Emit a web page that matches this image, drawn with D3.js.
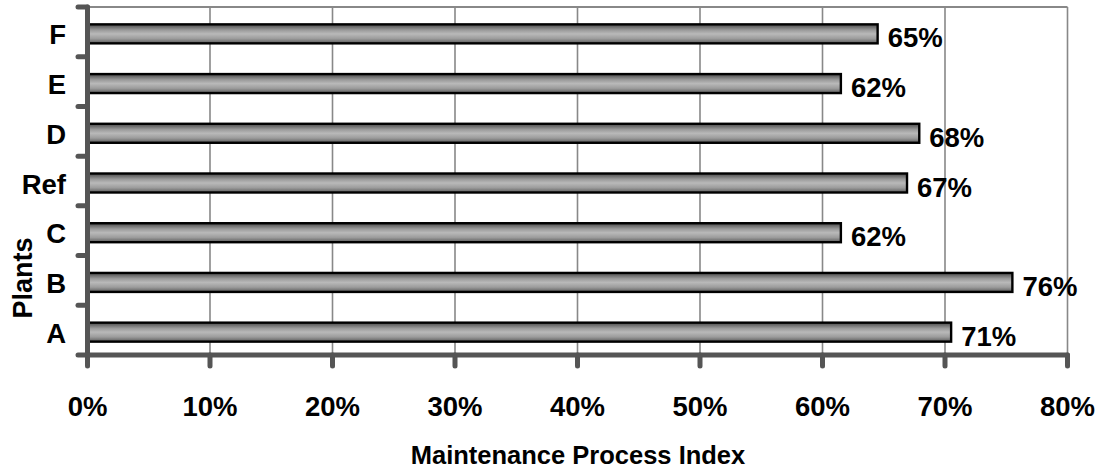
<!DOCTYPE html>
<html>
<head>
<meta charset="utf-8">
<script src="https://cdn.jsdelivr.net/npm/d3@7"></script>
<style>
  html, body { margin: 0; padding: 0; background: #fff; }
  svg { display: block; }
</style>
</head>
<body>
<div id="chart"></div>
<script>
// ---- data -----------------------------------------------------------------
const plants = ["F", "E", "D", "Ref", "C", "B", "A"]; // top to bottom
const processIndex = [64.5, 61.5, 67.9, 66.9, 61.5, 75.5, 70.5];
const valueLabels = ["65%", "62%", "68%", "67%", "62%", "76%", "71%"];
const xTicks = [0, 10, 20, 30, 40, 50, 60, 70, 80];

// ---- layout ---------------------------------------------------------------
const W = 1102, H = 470;
const L = 87.5, R = 1067.5, T = 7, B = 355;
const FAM = "'Liberation Sans', Arial, sans-serif";
const FONT = `bold 27.5px ${FAM}`;
const AXIS = "#555", GRID = "#888";

const svg = d3.select("#chart").append("svg").attr("width", W).attr("height", H);

const x = d3.scaleLinear().domain([0, 80]).range([L, R]);
const y = d3.scaleBand().domain(plants).range([T, B]);

// cylinder-ish shading on the bars
const grad = svg.append("defs").append("linearGradient")
  .attr("id", "barShade").attr("x1", 0).attr("y1", 0).attr("x2", 0).attr("y2", 1);
[[0, "#4a4a4a"], [0.3, "#9a9a9a"], [0.5, "#b9b9b9"], [0.75, "#9c9c9c"], [1, "#5c5c5c"]]
  .forEach(([o, c]) => grad.append("stop").attr("offset", o).attr("stop-color", c));

// ---- grid + frame ---------------------------------------------------------
svg.append("g")
  .selectAll("line")
  .data(xTicks.slice(1))
  .join("line")
  .attr("x1", (d) => x(d)).attr("x2", (d) => x(d))
  .attr("y1", T).attr("y2", B)
  .attr("stroke", GRID).attr("stroke-width", 1.6);
svg.append("line")
  .attr("x1", L).attr("x2", R).attr("y1", T).attr("y2", T)
  .attr("stroke", GRID).attr("stroke-width", 2);

// ---- bars -----------------------------------------------------------------
const BAR_H = 19, BAR_OFF = 2;
const rows = plants.map((p, i) => ({ p, v: processIndex[i], lab: valueLabels[i] }));
svg.append("g")
  .selectAll("rect")
  .data(rows)
  .join("rect")
  .attr("x", x(0))
  .attr("y", (d) => y(d.p) + y.bandwidth() / 2 - BAR_H / 2 + BAR_OFF)
  .attr("width", (d) => x(d.v) - x(0))
  .attr("height", BAR_H)
  .attr("fill", "url(#barShade)")
  .attr("stroke", "#000").attr("stroke-width", 2.4);

svg.append("g")
  .selectAll("text")
  .data(rows)
  .join("text")
  .attr("x", (d) => x(d.v) + 10)
  .attr("y", (d) => y(d.p) + y.bandwidth() / 2 + BAR_OFF + 4)
  .attr("dominant-baseline", "central")
  .attr("fill", "#000").style("font", FONT)
  .text((d) => d.lab);

// ---- axes -----------------------------------------------------------------
const axes = svg.append("g").attr("stroke", AXIS).attr("stroke-linecap", "round");
// left axis ticks at band boundaries
const bounds = plants.map((p) => y(p)).concat([B]);
axes.selectAll("line.yt").data(bounds).join("line").attr("class", "yt")
  .attr("x1", 78).attr("x2", L).attr("y1", (d) => d).attr("y2", (d) => d)
  .attr("stroke-width", 5);
// bottom axis ticks
axes.selectAll("line.xt").data(xTicks).join("line").attr("class", "xt")
  .attr("x1", (d) => x(d)).attr("x2", (d) => x(d)).attr("y1", B).attr("y2", 366)
  .attr("stroke-width", 5);
axes.append("line").attr("x1", L).attr("x2", L).attr("y1", T).attr("y2", B).attr("stroke-width", 5);
axes.append("line").attr("x1", L).attr("x2", R).attr("y1", B).attr("y2", B).attr("stroke-width", 5);

// tick labels
svg.append("g")
  .selectAll("text")
  .data(xTicks)
  .join("text")
  .attr("x", (d) => x(d)).attr("y", 416)
  .attr("text-anchor", "middle")
  .attr("fill", "#000").style("font", FONT)
  .text((d) => d + "%");

svg.append("g")
  .selectAll("text")
  .data(plants)
  .join("text")
  .attr("x", 66)
  .attr("y", (d) => y(d) + y.bandwidth() / 2 + 3)
  .attr("text-anchor", "end").attr("dominant-baseline", "central")
  .attr("fill", "#000").style("font", FONT)
  .text((d) => d);

// axis titles
svg.append("text")
  .attr("x", 578).attr("y", 464)
  .attr("text-anchor", "middle")
  .attr("fill", "#000").style("font", `bold 25.5px ${FAM}`)
  .text("Maintenance Process Index");

svg.append("text")
  .attr("transform", "translate(32,278) rotate(-90)")
  .attr("text-anchor", "middle")
  .attr("fill", "#000").style("font", `bold 27px ${FAM}`)
  .text("Plants");
</script>
</body>
</html>
